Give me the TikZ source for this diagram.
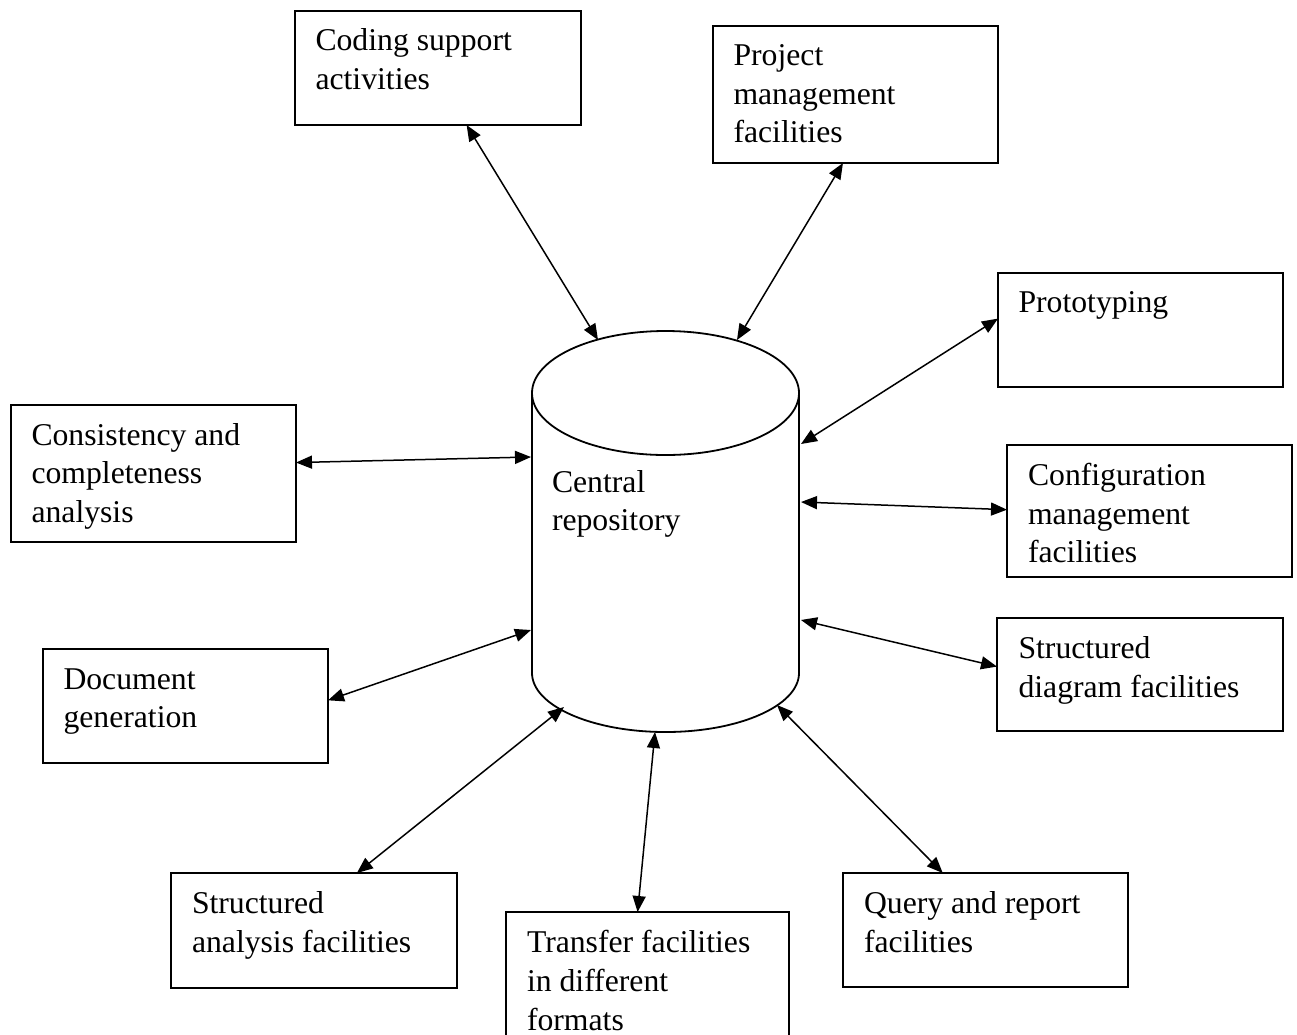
\documentclass[tikz,border=0pt]{standalone}
\usepackage{fontspec}
\setmainfont{Liberation Serif}
\usetikzlibrary{arrows.meta,calc}
\begin{document}
\begin{tikzpicture}[x=1pt,y=-1pt,
  box/.style={draw, line width=1.8pt, inner sep=0pt, outer sep=0pt, anchor=north west},
  lbl/.style={anchor=north west, inner sep=0pt, outer sep=0pt, align=left,
              font=\fontsize{31.7}{38.7}\selectfont},
  link/.style={line width=1.5pt,
     {Triangle[length=16pt,width=13pt]}-{Triangle[length=16pt,width=13pt]}},
  cyl/.style={line width=1.8pt}]
\fill[white] (0,0) rectangle (1297,1034);
\useasboundingbox (0,0) rectangle (1297,1034);
\clip (0,0) rectangle (1297,1034);

% boxes
\node[box, minimum width=286pt, minimum height=114pt] (cod) at (295,11) {};
\node[box, minimum width=285pt, minimum height=137pt] (prj) at (713,26) {};
\node[box, minimum width=285pt, minimum height=114pt] (pro) at (998,273) {};
\node[box, minimum width=285pt, minimum height=137pt] (con) at (11,405) {};
\node[box, minimum width=285pt, minimum height=132pt] (cfg) at (1007,445) {};
\node[box, minimum width=285pt, minimum height=114pt] (doc) at (43,649) {};
\node[box, minimum width=286pt, minimum height=113pt] (sdf) at (997,618) {};
\node[box, minimum width=286pt, minimum height=115pt] (saf) at (171,873) {};
\node[box, minimum width=283pt, minimum height=140pt] (trf) at (506,912) {};
\node[box, minimum width=285pt, minimum height=114pt] (qry) at (843,873) {};

% labels
\node[lbl] (tcod) at ($(cod.north west)+(20.5,18)$) {Coding support\\activities};
\node[lbl] (tprj) at ($(prj.north west)+(20.5,18.5)$) {Project\\management\\facilities};
\node[lbl] (tpro) at ($(pro.north west)+(20.5,18.5)$) {Prototyping};
\node[lbl] (tcon) at ($(con.north west)+(20.5,18)$) {Consistency and\\completeness\\analysis};
\node[lbl] (tcfg) at ($(cfg.north west)+(21,18)$) {Configuration\\management\\facilities};
\node[lbl] (tdoc) at ($(doc.north west)+(20.5,19.5)$) {Document\\generation};
\node[lbl] (tsdf) at ($(sdf.north west)+(21.5,18.5)$) {Structured\\diagram facilities};
\node[lbl] (tsaf) at ($(saf.north west)+(21,18.5)$) {Structured\\analysis facilities};
\node[lbl] (ttrf) at ($(trf.north west)+(21,18.5)$) {Transfer facilities\\in different\\formats};
\node[lbl] (tqry) at ($(qry.north west)+(21,18.5)$) {Query and report\\facilities};

% central repository cylinder
\draw[cyl] (665.5,393) ellipse [x radius=133.5, y radius=62];
\draw[cyl] (532,393) -- (532,673)
  arc [start angle=180, end angle=0, x radius=133.5, y radius=59]
  -- (799,393);
\node[lbl] (repo) at (552,470) {Central\\repository};

% attachment points on the cylinder
\coordinate (c-cod) at (598,340);
\coordinate (c-prj) at (737,340);
\coordinate (c-pro) at (801,444);
\coordinate (c-con) at (531,457);
\coordinate (c-cfg) at (801,502);
\coordinate (c-doc) at (531,630);
\coordinate (c-sdf) at (801,620);
\coordinate (c-saf) at (564,707);
\coordinate (c-trf) at (655,732);
\coordinate (c-qry) at (777,705);

% attachment points on the boxes
\coordinate (cod-s) at ($(cod.south west)!0.60!(cod.south east)$);
\coordinate (prj-s) at ($(prj.south west)!0.456!(prj.south east)$);
\coordinate (pro-w) at ($(pro.north west)!0.40!(pro.south west)$);
\coordinate (con-e) at ($(con.north east)!0.42!(con.south east)$);
\coordinate (cfg-w) at ($(cfg.north west)!0.49!(cfg.south west)$);
\coordinate (doc-e) at ($(doc.north east)!0.45!(doc.south east)$);
\coordinate (sdf-w) at ($(sdf.north west)!0.43!(sdf.south west)$);
\coordinate (saf-n) at ($(saf.north west)!0.65!(saf.north east)$);
\coordinate (trf-n) at ($(trf.north west)!0.465!(trf.north east)$);
\coordinate (qry-n) at ($(qry.north west)!0.35!(qry.north east)$);

% connectors
\draw[link] (cod-s) -- (c-cod);
\draw[link] (prj-s) -- (c-prj);
\draw[link] (pro-w) -- (c-pro);
\draw[link] (con-e) -- (c-con);
\draw[link] (cfg-w) -- (c-cfg);
\draw[link] (doc-e) -- (c-doc);
\draw[link] (sdf-w) -- (c-sdf);
\draw[link] (saf-n) -- (c-saf);
\draw[link] (trf-n) -- (c-trf);
\draw[link] (qry-n) -- (c-qry);
\end{tikzpicture}
\end{document}
